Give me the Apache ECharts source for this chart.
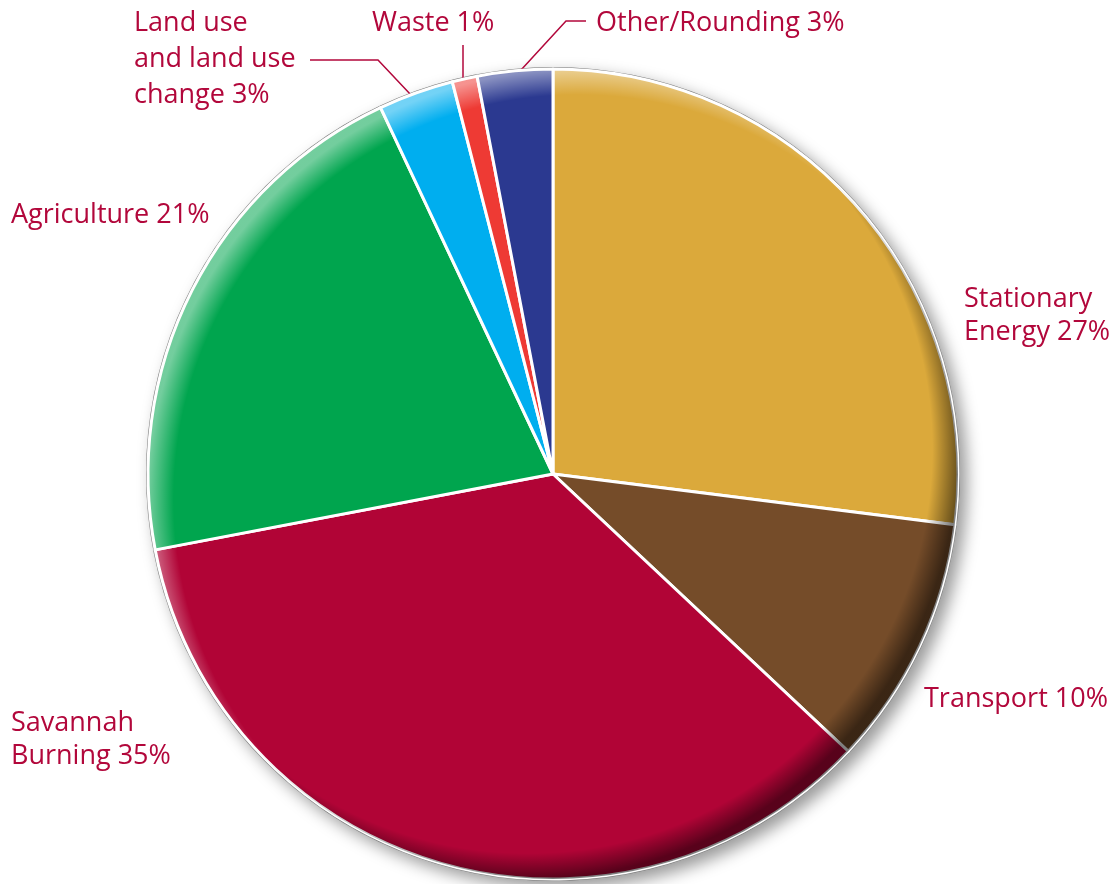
<!DOCTYPE html>
<html>
<head>
<meta charset="utf-8">
<script src="https://cdn.jsdelivr.net/npm/echarts@6/dist/echarts.min.js"></script>
<style>
html,body{margin:0;padding:0;background:#fff;}
#chart{width:1115px;height:884px;}
</style>
</head>
<body>
<div id="chart"></div>
<script>
// ---- data ----
var categories = ['Stationary Energy', 'Transport', 'Savannah Burning', 'Agriculture', 'Land use and land use change', 'Waste', 'Other/Rounding'];
var values = [27, 10, 35, 21, 3, 1, 3];
var labelTexts = ['Stationary\nEnergy 27%', 'Transport 10%', 'Savannah\nBurning 35%', 'Agriculture 21%', 'Land use\nand land use\nchange 3%', 'Waste 1%', 'Other/Rounding 3%'];
var colors = ['#DBA93B', '#754C29', '#B10436', '#00A54E', '#00AEEF', '#EE3A34', '#2B3990'];

// ---- layout (styling) ----
var CX = 553, CY = 474, R = 405;
var labelPos = [
  {x: 964, y: 299, lh: 33, lines: null},
  {x: 924, y: 699, lh: 30, lines: null},
  {x: 11, y: 723, lh: 33, lines: null},
  {x: 11, y: 215, lh: 30, lines: null},
  {x: 134, y: 23, lh: 36, lines: [[310, 60], [378, 60], [411, 95]]},
  {x: 372, y: 23, lh: 30, lines: [[463, 45], [463, 81]]},
  {x: 596, y: 23, lh: 30, lines: [[586, 21], [566, 21], [521, 70]]}
];
var textColor = '#B2073B';

var chart = echarts.init(document.getElementById('chart'), null, {renderer: 'canvas'});

var dataItems = categories.map(function (c, i) {
  return {
    name: c,
    value: values[i],
    itemStyle: {color: colors[i]},
    label: {lineHeight: labelPos[i].lh}
  };
});

function rimGradient(dx, dy, rgba) {
  var rr = R + 25;
  return {
    type: 'radial', x: CX + dx, y: CY + dy, r: rr, global: true,
    colorStops: [
      {offset: 0, color: rgba.replace(/[\d.]+\)$/, '0)')},
      {offset: 0.94, color: rgba.replace(/[\d.]+\)$/, '0)')},
      {offset: 1, color: rgba}
    ]
  };
}

var option = {
  backgroundColor: '#ffffff',
  animation: false,
  series: [
    {
      type: 'pie',
      silent: true,
      center: [CX, CY],
      radius: R + 2,
      startAngle: 90,
      z: 1,
      label: {show: false},
      labelLine: {show: false},
      itemStyle: {
        color: '#7a7a7a',
        shadowBlur: 16,
        shadowOffsetX: 7,
        shadowOffsetY: 7,
        shadowColor: 'rgba(0,0,0,0.4)'
      },
      data: [{value: 1, name: 'bg'}]
    },
    {
      type: 'pie',
      center: [CX, CY],
      radius: R,
      startAngle: 90,
      clockwise: true,
      z: 2,
      itemStyle: {
        borderColor: '#ffffff',
        borderWidth: 3
      },
      label: {
        show: true,
        formatter: function (p) { return labelTexts[p.dataIndex]; },
        color: textColor,
        fontFamily: 'Open Sans',
        fontSize: 27,
        align: 'left',
        overflow: 'none'
      },
      labelLine: {
        show: true,
        lineStyle: {color: textColor, width: 1.5}
      },
      labelLayout: function (params) {
        var p = labelPos[params.dataIndex];
        var lines = (labelTexts[params.dataIndex].match(/\n/g) || []).length + 1;
        var res = {
          x: p.x,
          y: p.y + (lines - 1) * p.lh / 2,
          align: 'left',
          verticalAlign: 'middle'
        };
        res.labelLinePoints = p.lines ? p.lines : [[0, 0], [0, 0], [0, 0]];
        return res;
      },
      data: dataItems
    },
    {
      type: 'pie',
      silent: true,
      center: [CX, CY],
      radius: R,
      startAngle: 90,
      z: 3,
      label: {show: false},
      labelLine: {show: false},
      itemStyle: {color: rimGradient(-25, -25, 'rgba(0,0,0,0.5)')},
      data: [{value: 1, name: 'shade'}]
    },
    {
      type: 'pie',
      silent: true,
      center: [CX, CY],
      radius: R,
      startAngle: 90,
      z: 4,
      label: {show: false},
      labelLine: {show: false},
      itemStyle: {color: rimGradient(25, 25, 'rgba(255,255,255,0.45)')},
      data: [{value: 1, name: 'light'}]
    }
  ]
};
chart.setOption(option);
</script>
</body>
</html>
